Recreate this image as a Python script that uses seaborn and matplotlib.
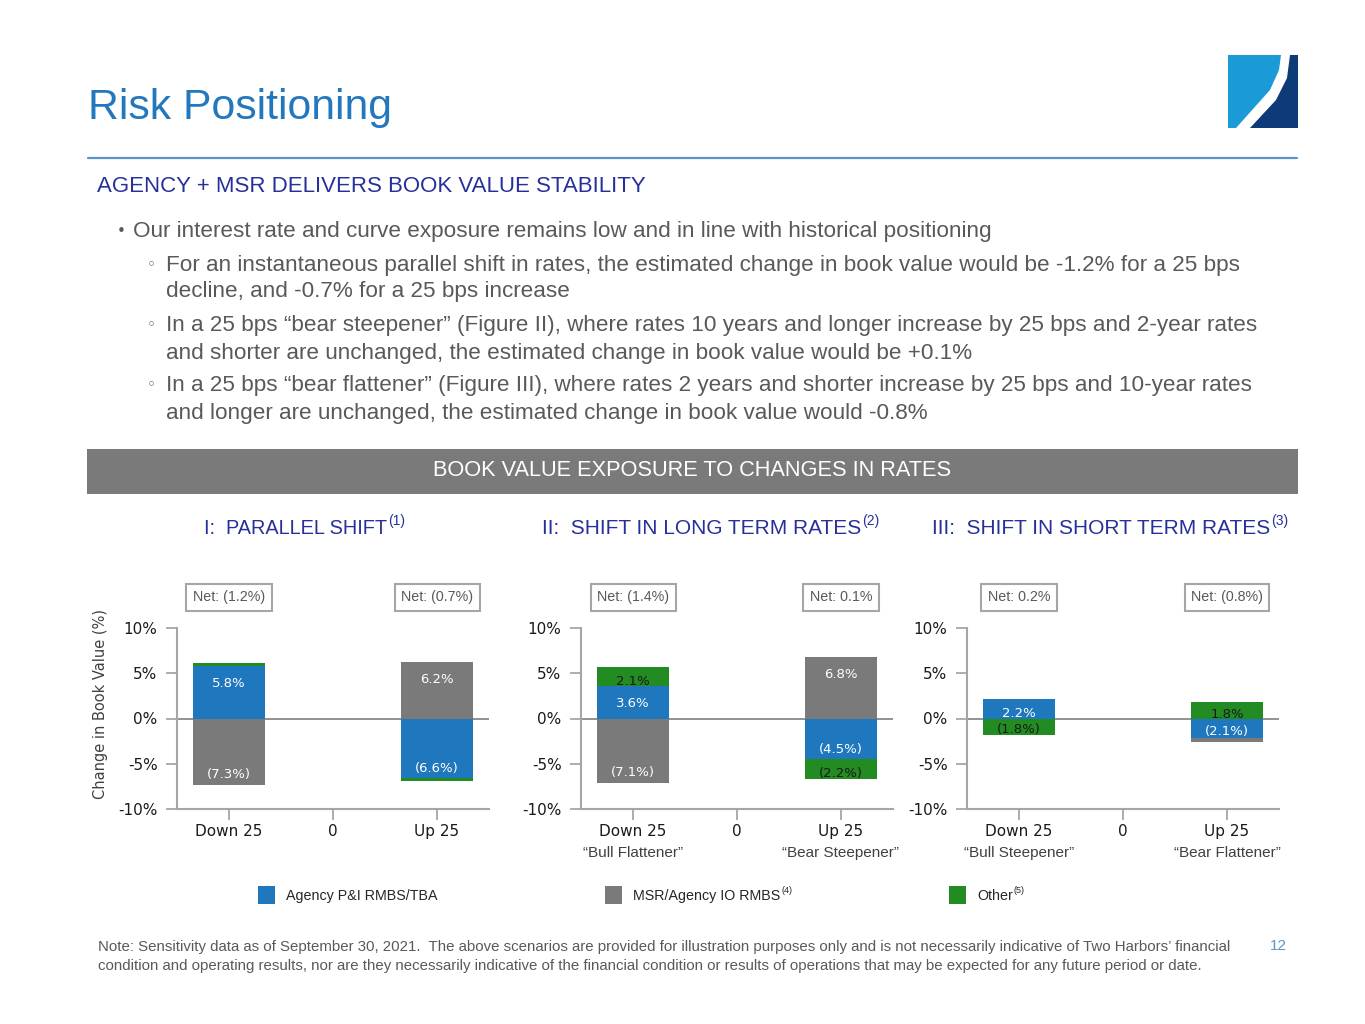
"""Risk positioning slide: book value exposure to changes in rates."""

import matplotlib

matplotlib.use("Agg")

import matplotlib.pyplot as plt
import matplotlib.transforms as mtransforms
import pandas as pd
import seaborn as sns
from matplotlib.patches import Polygon, Rectangle

SCENARIOS = ["Down 25", "0", "Up 25"]

PARALLEL_AGENCY = [5.8, 0.0, -6.6]
PARALLEL_MSR = [-7.3, 0.0, 6.2]
PARALLEL_OTHER = [0.3, 0.0, -0.3]
PARALLEL_NET = [-1.2, -0.7]

LONG_AGENCY = [3.6, 0.0, -4.5]
LONG_MSR = [-7.1, 0.0, 6.8]
LONG_OTHER = [2.1, 0.0, -2.2]
LONG_NET = [-1.4, 0.1]

SHORT_AGENCY = [2.2, 0.0, -2.1]
SHORT_MSR = [0.0, 0.0, -0.5]
SHORT_OTHER = [-1.8, 0.0, 1.8]
SHORT_NET = [0.2, -0.8]

COMPONENTS = ["Agency P&I RMBS/TBA", "MSR/Agency IO RMBS", "Other"]
COLORS = {"Agency P&I RMBS/TBA": "#1f77be", "MSR/Agency IO RMBS": "#7a7a7a", "Other": "#228b22"}
LABEL_COLORS = {"Agency P&I RMBS/TBA": "white", "MSR/Agency IO RMBS": "white", "Other": "#1a1a1a"}

CHART_TITLES = ["I:  PARALLEL SHIFT", "II:  SHIFT IN LONG TERM RATES", "III:  SHIFT IN SHORT TERM RATES"]
CHART_NOTES = ["(1)", "(2)", "(3)"]
CURVE_NAMES = [None, ["\u201cBull Flattener\u201d", "\u201cBear Steepener\u201d"],
               ["\u201cBull Steepener\u201d", "\u201cBear Flattener\u201d"]]

BULLETS = [
    ("\u2022", 117, 133, ["Our interest rate and curve exposure remains low and in line with historical positioning"]),
    ("\u25e6", 147, 166, ["For an instantaneous parallel shift in rates, the estimated change in book value would be -1.2% for a 25 bps",
                          "decline, and -0.7% for a 25 bps increase"]),
    ("\u25e6", 147, 166, ["In a 25 bps \u201cbear steepener\u201d (Figure II), where rates 10 years and longer increase by 25 bps and 2-year rates",
                          "and shorter are unchanged, the estimated change in book value would be +0.1%"]),
    ("\u25e6", 147, 166, ["In a 25 bps \u201cbear flattener\u201d (Figure III), where rates 2 years and shorter increase by 25 bps and 10-year rates",
                          "and longer are unchanged, the estimated change in book value would -0.8%"]),
]

FOOTNOTE = [
    "Note: Sensitivity data as of September 30, 2021.  The above scenarios are provided for illustration purposes only "
    "and is not necessarily indicative of Two Harbors\u2019 financial",
    "condition and operating results, nor are they necessarily indicative of the financial condition or results of "
    "operations that may be expected for any future period or date.",
]

W, H = 1365, 1024
TITLE_BLUE = "#2378bd"
NAVY = "#27309a"
TEXT_GRAY = "#595959"
SLIDE_FONT = ["Liberation Sans", "DejaVu Sans"]
CHART_FONT = ["DejaVu Sans"]

sns.set_theme(style="white")
plt.rcParams["font.family"] = SLIDE_FONT

fig = plt.figure(figsize=(W / 100, H / 100), dpi=100)
fig.patch.set_facecolor("white")
bg = fig.add_axes([0, 0, 1, 1])
bg.set_xlim(0, W)
bg.set_ylim(H, 0)
bg.axis("off")
renderer = fig.canvas.get_renderer()


def fmt_pct(value: float) -> str:
    """Format a percentage the way the slide does: negatives in brackets."""
    return f"({abs(value):.1f}%)" if value < 0 else f"{value:.1f}%"


def text_with_sup(x, y, main, sup, size, color, sup_size):
    """Draw text on the background axes with a superscript note after it."""
    t = bg.text(x, y, main, fontsize=size, color=color, va="center", ha="left")
    box = t.get_window_extent(renderer)
    bg.text(box.x1 + 1, y - size * 0.5, sup, fontsize=sup_size, color=color, va="center", ha="left")


# header
bg.text(88, 108, "Risk Positioning", fontsize=30.8, color=TITLE_BLUE, va="center", ha="left")
bg.plot([88, 1297], [158, 158], color="#5b96c8", lw=1.6)
bg.add_patch(Polygon([(1228, 55), (1281, 55), (1279, 70), (1270, 90), (1236, 128), (1228, 128)],
                     closed=True, color="#1a9ad6", lw=0))
bg.add_patch(Polygon([(1290, 55), (1298, 55), (1298, 128), (1250, 128), (1276, 100), (1287, 78)],
                     closed=True, color="#0d3b78", lw=0))

bg.text(97, 187, "AGENCY + MSR DELIVERS BOOK VALUE STABILITY", fontsize=16, color=NAVY, va="center")

line_y = [232, 265, 292, 325, 353, 385, 413]
i = 0
for marker, mx, tx, lines in BULLETS:
    bg.text(mx, line_y[i], marker, fontsize=11, color=TEXT_GRAY, va="center", ha="left",
            family=["DejaVu Sans"])
    for line in lines:
        bg.text(tx, line_y[i], line, fontsize=16.2, color=TEXT_GRAY, va="center", ha="left")
        i += 1

bg.add_patch(Rectangle((87, 449), 1211, 45, color="#7a7a7a", lw=0))
bg.text(692, 470, "BOOK VALUE EXPOSURE TO CHANGES IN RATES", fontsize=15.7, color="white",
        va="center", ha="center")

for left, title, note, size in zip([204, 542, 932], CHART_TITLES, CHART_NOTES, [14.3, 15, 15]):
    text_with_sup(left, 528, title, note, size, NAVY, 10)

# charts
charts = [
    (177, PARALLEL_AGENCY, PARALLEL_MSR, PARALLEL_OTHER, PARALLEL_NET),
    (581, LONG_AGENCY, LONG_MSR, LONG_OTHER, LONG_NET),
    (967, SHORT_AGENCY, SHORT_MSR, SHORT_OTHER, SHORT_NET),
]
top_px, bottom_px, width_px = 628, 809, 312

for idx, (left, agency, msr, other, net) in enumerate(charts):
    ax = fig.add_axes([left / W, (H - bottom_px) / H, width_px / W, (bottom_px - top_px) / H])
    ax.set_facecolor("none")
    df = pd.DataFrame({"scenario": SCENARIOS, COMPONENTS[0]: agency, COMPONENTS[1]: msr, COMPONENTS[2]: other})

    pos_base = [0.0] * len(SCENARIOS)
    neg_base = [0.0] * len(SCENARIOS)
    for comp in COMPONENTS:
        vals = df[comp].tolist()
        bottoms = [pos_base[k] if v >= 0 else neg_base[k] for k, v in enumerate(vals)]
        sns.barplot(data=df, x="scenario", y=comp, order=SCENARIOS, bottom=bottoms, color=COLORS[comp],
                    saturation=1, width=0.69, errorbar=None, linewidth=0, ax=ax)
        for k, v in enumerate(vals):
            end = bottoms[k] + v
            # the slide leaves the thin slivers unlabelled
            if abs(v) >= 1.0:
                if v > 0:
                    ly = end - min(1.9, 0.75 * v)
                else:
                    ly = end + min(1.1, 0.3 * abs(v))
                ax.text(k, ly, fmt_pct(v), ha="center", va="center", fontsize=9.5,
                        color=LABEL_COLORS[comp], family=CHART_FONT)
            if v >= 0:
                pos_base[k] = end
            else:
                neg_base[k] = end

    ax.axhline(0, color="#7f7f7f", lw=1.2, zorder=0.5)
    ax.set_xlim(-0.5, 2.5)
    ax.set_ylim(-10, 10)
    ax.set_yticks([-10, -5, 0, 5, 10])
    ax.set_yticklabels([f"{t}%" for t in [-10, -5, 0, 5, 10]], family=CHART_FONT)
    ax.set_xticks(range(len(SCENARIOS)))
    ax.set_xticklabels(SCENARIOS, family=CHART_FONT)
    ax.set_xlabel("")
    ax.set_ylabel("")
    ax.tick_params(axis="both", which="major", length=8, width=1.3, color="#a6a6a6",
                   labelsize=11, labelcolor="#1a1a1a", direction="out", bottom=True, left=True)
    ax.tick_params(axis="y", pad=6)
    ax.tick_params(axis="x", pad=3)
    for side in ["top", "right"]:
        ax.spines[side].set_visible(False)
    for side in ["left", "bottom"]:
        ax.spines[side].set_color("#a6a6a6")
        ax.spines[side].set_linewidth(1.5)

    for k, value in zip([0, 2], net):
        ax.text(k, 13.4, f"Net: {fmt_pct(value)}", ha="center", va="center", fontsize=10.3,
                color=TEXT_GRAY, clip_on=False,
                bbox=dict(boxstyle="square,pad=0.45", facecolor="white", edgecolor="#a6a6a6", lw=1.5))

    if CURVE_NAMES[idx]:
        trans = mtransforms.blended_transform_factory(ax.transData, ax.transAxes)
        for k, name in zip([0, 2], CURVE_NAMES[idx]):
            ax.text(k, -0.243, name, transform=trans, ha="center", va="center", fontsize=11,
                    color="#404040", clip_on=False)

bg.text(101, 704, "Change in Book Value (%)", rotation=90, fontsize=10.5, color="#404040",
        ha="center", va="center", family=CHART_FONT)

# legend
for sx, comp, note in zip([258, 605, 949], COMPONENTS, ["", "(4)", "(5)"]):
    bg.add_patch(Rectangle((sx, 886), 17, 18, color=COLORS[comp], lw=0))
    if note:
        text_with_sup(sx + 28, 896, comp, note, 10.3, "#262626", 6.5)
    else:
        bg.text(sx + 28, 896, comp, fontsize=10.3, color="#262626", va="center", ha="left")

# footnote
bg.text(98, 947, FOOTNOTE[0], fontsize=10.85, color=TEXT_GRAY, va="center", ha="left")
bg.text(98, 966, FOOTNOTE[1], fontsize=10.85, color=TEXT_GRAY, va="center", ha="left")
bg.text(1287, 946, "12", fontsize=11, color="#5b96c8", va="center", ha="right")

fig.savefig("out.png", dpi=100)
